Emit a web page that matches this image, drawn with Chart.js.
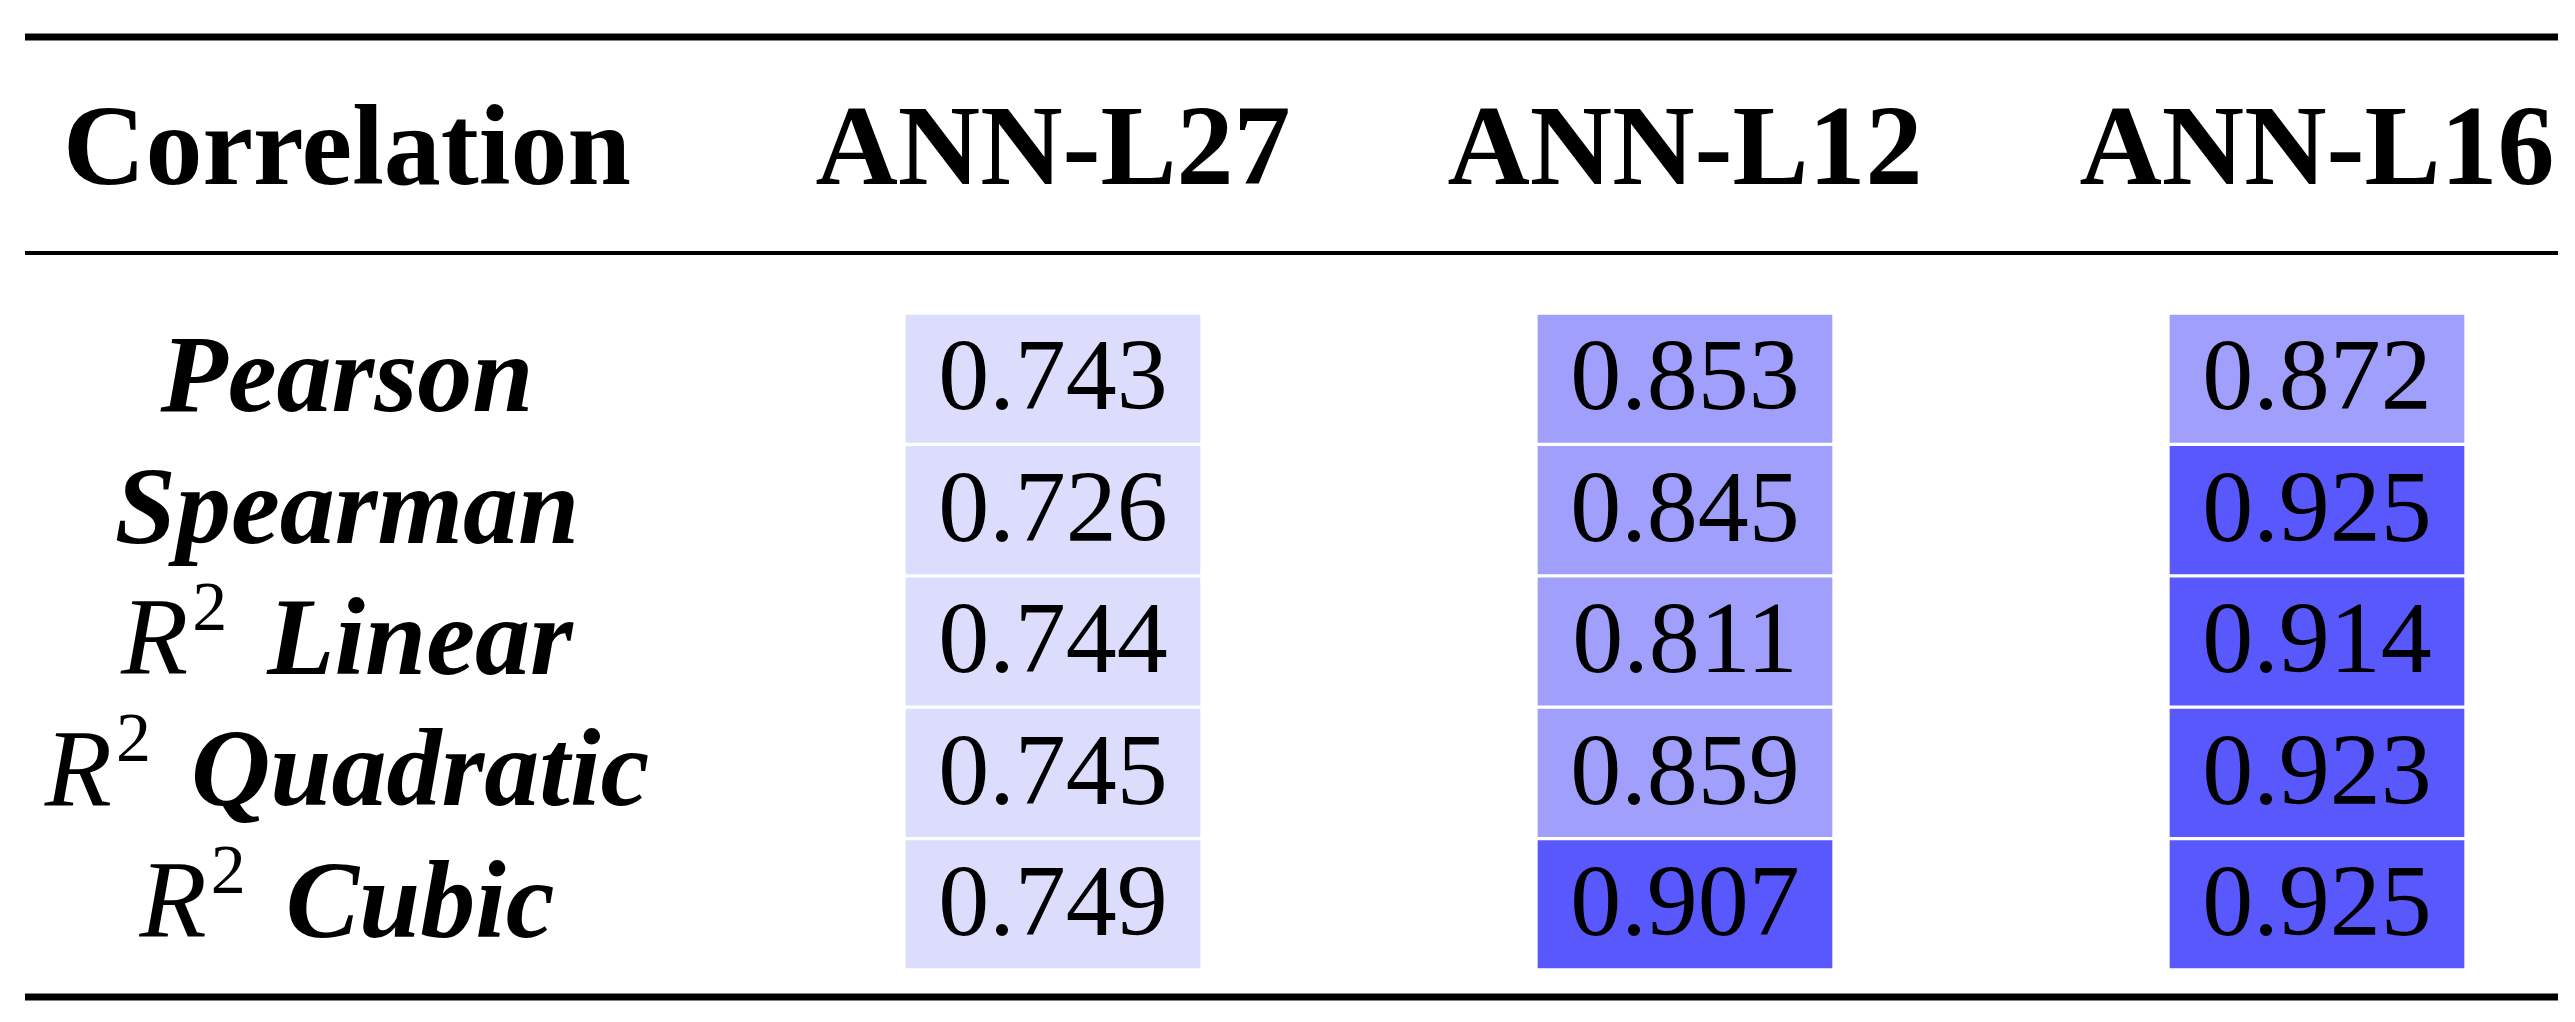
<!DOCTYPE html>
<html><head><meta charset="utf-8">
<script src="https://cdn.jsdelivr.net/npm/chart.js@4"></script>
<style>html,body{margin:0;padding:0;background:#fff}#w{width:2575px;height:1022px}</style>
</head><body><div id="w"><canvas id="c"></canvas></div>
<script>
const columns = ['ANN-L27', 'ANN-L12', 'ANN-L16'];
const rowNames = ['Pearson', 'Spearman', 'Linear', 'Quadratic', 'Cubic'];
const rowHasR2 = [false, false, true, true, true];
const headerLabel = 'Correlation';
const annL27 = [0.743, 0.726, 0.744, 0.745, 0.749];
const annL12 = [0.853, 0.845, 0.811, 0.859, 0.907];
const annL16 = [0.872, 0.925, 0.914, 0.923, 0.925];
const colValues = [annL27, annL12, annL16];

function cellColor(v) {
  if (v < 0.8) return '#dcdcfd';
  if (v < 0.9) return '#a0a0fc';
  return '#5858fd';
}

const datasets = rowNames.map((name, r) => ({
  label: name,
  data: colValues.map((vals, c) => ({ x: c + 1, y: [r, r + 1], v: vals[r] })),
  backgroundColor: colValues.map(vals => cellColor(vals[r])),
  borderColor: 'rgba(255,255,255,0.3)',
  borderWidth: 2,
  borderSkipped: false,
  barThickness: 298,
  grouped: false
}));

const tablePlugin = {
  id: 'table',
  afterDatasetsDraw(chart) {
    const ctx = chart.ctx, xs = chart.scales.x, ys = chart.scales.y;
    ctx.save();
    ctx.fillStyle = '#000';
    ctx.textBaseline = 'middle';
    ctx.textAlign = 'center';
    chart.data.datasets.forEach((ds, di) => {
      const meta = chart.getDatasetMeta(di);
      meta.data.forEach((el, i) => {
        ctx.font = '102px "Liberation Serif"';
        ctx.fillText(ds.data[i].v.toFixed(3), el.x, (el.y + el.base) / 2 + 4);
      });
    });
    const hy = 155;
    ctx.font = 'bold 114px "Liberation Serif"';
    columns.forEach((c, i) => ctx.fillText(c, xs.getPixelForValue(i + 1), hy));
    const labelX = 347;
    ctx.fillText(headerLabel, labelX, hy);
    rowNames.forEach((n, r) => {
      const y = ys.getPixelForValue(r + 0.5) + 4;
      ctx.textAlign = 'left';
      const fR = 'italic 110px "Liberation Serif"';
      const fS = '70px "Liberation Serif"';
      const fW = 'bold italic 110px "Liberation Serif"';
      ctx.font = fW; const ww = ctx.measureText(n).width;
      let wr = 0, ws = 0, gap = 0;
      if (rowHasR2[r]) {
        ctx.font = fR; wr = ctx.measureText('R').width;
        ctx.font = fS; ws = ctx.measureText('2').width;
        gap = 44;
      }
      const w = wr + ws + gap + ww;
      let x = labelX - w / 2;
      if (rowHasR2[r]) {
        ctx.font = fR; ctx.fillText('R', x, y); x += wr + 4;
        ctx.font = fS; ctx.fillText('2', x, y - 34); x += ws + gap - 4;
      }
      ctx.font = fW; ctx.fillText(n, x, y);
    });
    ctx.strokeStyle = '#000';
    [[37, 7], [253, 4], [997, 7]].forEach(([y, lw]) => {
      ctx.lineWidth = lw;
      ctx.beginPath(); ctx.moveTo(25, y); ctx.lineTo(2558, y); ctx.stroke();
    });
    ctx.restore();
  }
};

new Chart(document.getElementById('c'), {
  type: 'bar',
  data: { datasets },
  options: {
    responsive: true, maintainAspectRatio: false, animation: false,
    layout: { padding: { left: 700, right: 15, top: 313, bottom: 52 } },
    plugins: { legend: { display: false }, tooltip: { enabled: false } },
    scales: {
      x: { type: 'linear', display: false, offset: false, min: 0.4415, max: 3.3845 },
      y: { type: 'linear', display: false, min: 0, max: 5, reverse: true }
    }
  },
  plugins: [tablePlugin]
});
</script></body></html>
